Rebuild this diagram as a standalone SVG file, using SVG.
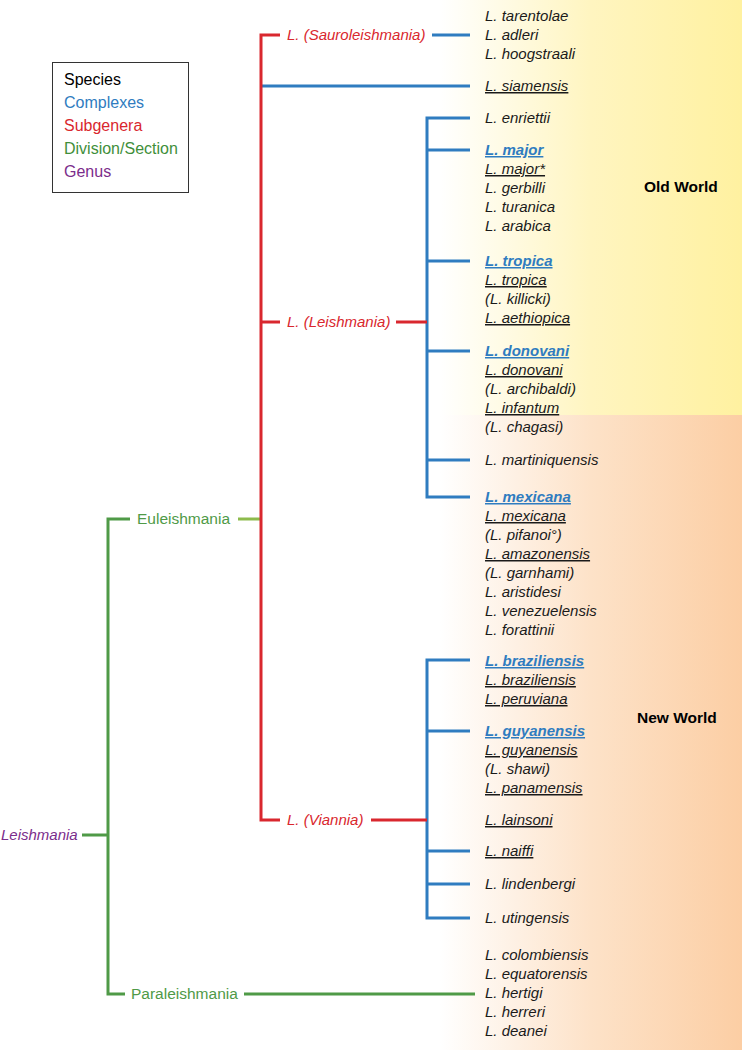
<svg xmlns="http://www.w3.org/2000/svg" width="742" height="1050" viewBox="0 0 742 1050">
<defs>
<linearGradient id="gy" x1="0" y1="0" x2="1" y2="0">
<stop offset="0" stop-color="#ffffff"/>
<stop offset="0.5" stop-color="#fff5c0"/>
<stop offset="1" stop-color="#fff1a0"/>
</linearGradient>
<linearGradient id="go" x1="0" y1="0" x2="1" y2="0">
<stop offset="0" stop-color="#ffffff"/>
<stop offset="0.5" stop-color="#fde2c8"/>
<stop offset="1" stop-color="#fccea4"/>
</linearGradient>
</defs>
<style>
text{font-family:"Liberation Sans",Arial,sans-serif;font-size:15px}
.sp{font-style:italic;fill:#1a1a1a}
.cx{font-style:italic;font-weight:bold;fill:#2f7cc0}
.u{text-decoration:underline}
.sg{font-style:italic;fill:#d9272e;font-size:15px}
.dv{fill:#4f9a47;font-size:15.5px}
.gn{font-style:italic;fill:#7b2d8b}
.lg{font-size:16px}
.wd{font-weight:bold;font-size:15.5px;fill:#000}
.b{stroke:#2f7cc0;stroke-width:3;fill:none}
.r{stroke:#d9272e;stroke-width:3;fill:none}
.g{stroke:#4f9a47;stroke-width:3;fill:none}
.lgc{stroke:#8dbb4c;stroke-width:3;fill:none}
</style>
<rect x="440" y="0" width="302" height="415" fill="url(#gy)"/>
<rect x="440" y="415" width="302" height="635" fill="url(#go)"/>
<text class="wd" x="644" y="192">Old World</text>
<text class="wd" x="637" y="723">New World</text>
<g id="legend">
<rect x="52.5" y="62.5" width="136" height="130" fill="#fff" stroke="#333" stroke-width="1"/>
<text class="lg" x="64" y="85" fill="#000">Species</text>
<text class="lg" x="64" y="108" fill="#2f7cc0">Complexes</text>
<text class="lg" x="64" y="131" fill="#d9272e">Subgenera</text>
<text class="lg" x="64" y="154" fill="#3f8f3a">Division/Section</text>
<text class="lg" x="64" y="177" fill="#7b2d8b">Genus</text>
</g>
<g id="connectors">
<path class="g" d="M82,835 H108 M130,519 H108 V994 H125 M244,994 H475"/>
<path class="lgc" d="M238,519 H261"/>
<path class="b" d="M432,35 H470 M261,86 H470 M470,118 H427 V497 H470 M427,150 H470 M427,261 H470 M427,351 H470 M427,460 H470 M470,660 H427 V918 H470 M427,731 H470 M427,851 H470 M427,884 H470"/>
<path class="r" d="M280,35 H261 V820 H280 M261,322 H280 M396,322 H427 M371,820 H427"/>
</g>
<g id="genus-leishmania"><text class="gn" x="1" y="840">Leishmania</text></g>
<g id="div-euleishmania"><text class="dv" x="137" y="524">Euleishmania</text></g>
<g id="div-paraleishmania"><text class="dv" x="131" y="999">Paraleishmania</text></g>
<g id="subgenus-sauroleishmania"><text class="sg" x="287" y="40">L. (Sauroleishmania)</text></g>
<g id="subgenus-leishmania"><text class="sg" x="287" y="327">L. (Leishmania)</text></g>
<g id="subgenus-viannia"><text class="sg" x="287" y="825">L. (Viannia)</text></g>
<g id="sauro-species">
<text class="sp" x="485" y="21">L. tarentolae</text>
<text class="sp" x="485" y="40">L. adleri</text>
<text class="sp" x="485" y="59">L. hoogstraali</text>
</g>
<g id="siamensis"><text class="sp u" x="485" y="91">L. siamensis</text></g>
<g id="enriettii"><text class="sp" x="485" y="123">L. enriettii</text></g>
<g id="major-complex">
<text class="cx u" x="485" y="155">L. major</text>
<text class="sp u" x="485" y="174">L. major*</text>
<text class="sp" x="485" y="193">L. gerbilli</text>
<text class="sp" x="485" y="212">L. turanica</text>
<text class="sp" x="485" y="231">L. arabica</text>
</g>
<g id="tropica-complex">
<text class="cx u" x="485" y="266">L. tropica</text>
<text class="sp u" x="485" y="285">L. tropica</text>
<text class="sp" x="485" y="304">(L. killicki)</text>
<text class="sp u" x="485" y="323">L. aethiopica</text>
</g>
<g id="donovani-complex">
<text class="cx u" x="485" y="356">L. donovani</text>
<text class="sp u" x="485" y="375">L. donovani </text>
<text class="sp" x="485" y="394">(L. archibaldi)</text>
<text class="sp u" x="485" y="413">L. infantum</text>
<text class="sp" x="485" y="432">(L. chagasi)</text>
</g>
<g id="martiniquensis"><text class="sp" x="485" y="465">L. martiniquensis</text></g>
<g id="mexicana-complex">
<text class="cx u" x="485" y="502">L. mexicana</text>
<text class="sp u" x="485" y="521">L. mexicana</text>
<text class="sp" x="485" y="540">(L. pifanoi°)</text>
<text class="sp u" x="485" y="559">L. amazonensis</text>
<text class="sp" x="485" y="578">(L. garnhami)</text>
<text class="sp" x="485" y="597">L. aristidesi</text>
<text class="sp" x="485" y="616">L. venezuelensis</text>
<text class="sp" x="485" y="635">L. forattinii</text>
</g>
<g id="braziliensis-complex">
<text class="cx u" x="485" y="666">L. braziliensis</text>
<text class="sp u" x="485" y="685">L. braziliensis</text>
<text class="sp u" x="485" y="704">L. peruviana</text>
</g>
<g id="guyanensis-complex">
<text class="cx u" x="485" y="736">L. guyanensis</text>
<text class="sp u" x="485" y="755">L. guyanensis</text>
<text class="sp" x="485" y="774">(L. shawi)</text>
<text class="sp u" x="485" y="793">L. panamensis</text>
</g>
<g id="lainsoni"><text class="sp u" x="485" y="825">L. lainsoni</text></g>
<g id="naiffi"><text class="sp u" x="485" y="856">L. naiffi</text></g>
<g id="lindenbergi"><text class="sp" x="485" y="889">L. lindenbergi</text></g>
<g id="utingensis"><text class="sp" x="485" y="923">L. utingensis</text></g>
<g id="para-species">
<text class="sp" x="485" y="960">L. colombiensis</text>
<text class="sp" x="485" y="979">L. equatorensis</text>
<text class="sp" x="485" y="998">L. hertigi</text>
<text class="sp" x="485" y="1017">L. herreri</text>
<text class="sp" x="485" y="1036">L. deanei</text>
</g>
</svg>
